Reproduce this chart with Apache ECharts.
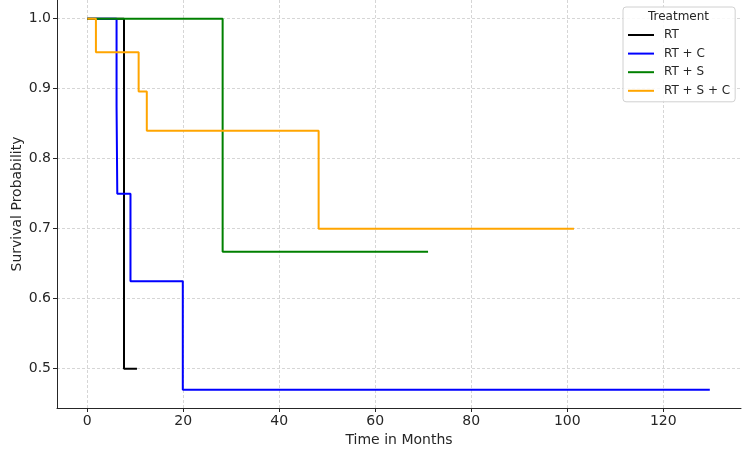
<!DOCTYPE html>
<html>
<head>
<meta charset="utf-8">
<script src="https://cdn.jsdelivr.net/npm/echarts@6/dist/echarts.min.js"></script>
<style>
  html, body { margin: 0; padding: 0; background: #fff; }
  #main { width: 750px; height: 456px; }
</style>
</head>
<body>
<div id="main"></div>
<script>
    // Kaplan-Meier steps
    var rtTime = [0, 7.65, 10.35];
    var rtSurv = [1.0, 0.5, 0.5];

    var rtcTime = [0, 6.1, 6.25, 9.0, 19.9, 129.7];
    var rtcSurv = [1.0, 0.875, 0.75, 0.625, 0.47, 0.47];

    var rtsTime = [0, 28.2, 71.0];
    var rtsSurv = [1.0, 0.667, 0.667];

    var rtscTime = [0, 1.8, 10.7, 12.4, 48.2, 101.4];
    var rtscSurv = [1.0, 0.952, 0.896, 0.84, 0.70, 0.70];

    var xTicks = [0, 20, 40, 60, 80, 100, 120];
    var yTicks = [0.5, 0.6, 0.7, 0.8, 0.9, 1.0];

    var seriesNames = ['RT', 'RT + C', 'RT + S', 'RT + S + C'];
    var seriesColors = ['#000000', '#0000ff', '#008000', '#ffa500'];

    function pairs(t, s) {
        var out = [];
        for (var i = 0; i < t.length; i++) out.push([t[i], s[i]]);
        return out;
    }

    var allData = [pairs(rtTime, rtSurv), pairs(rtcTime, rtcSurv), pairs(rtsTime, rtsSurv), pairs(rtscTime, rtscSurv)];

    var font = 'DejaVu Sans';
    var gridLine = { show: true, lineStyle: { color: '#cccccc', width: 0.8, type: [3, 2] } };

    var chart = echarts.init(document.getElementById('main'));
    chart.setOption({
        animation: false,
        textStyle: { fontFamily: font },
        grid: { left: 57, right: 9, top: 0, bottom: 48, containLabel: false, outerBoundsMode: 'none' },
        xAxis: {
            type: 'value',
            min: -6.31,
            max: 136.2,
            name: 'Time in Months',
            nameLocation: 'middle',
            nameGap: 23,
            nameTextStyle: { fontSize: 14, color: '#262626', fontFamily: font },
            axisLine: { show: true, onZero: false, lineStyle: { color: '#262626', width: 1 } },
            axisTick: { show: true, length: 4, customValues: xTicks, lineStyle: { color: '#262626' } },
            axisLabel: { customValues: xTicks, fontSize: 14, color: '#262626', margin: 6, fontFamily: font },
            splitLine: gridLine
        },
        yAxis: {
            type: 'value',
            min: 0.4439,
            max: 1.0267,
            name: 'Survival Probability',
            nameLocation: 'middle',
            nameGap: 33,
            nameMoveOverlap: false,
            nameTextStyle: { fontSize: 14, color: '#262626', fontFamily: font },
            axisLine: { show: true, onZero: false, lineStyle: { color: '#262626', width: 1 } },
            axisTick: { show: true, length: 4, customValues: yTicks, lineStyle: { color: '#262626' } },
            axisLabel: {
                customValues: yTicks, fontSize: 14, color: '#262626', margin: 6, fontFamily: font,
                formatter: function (v) { return v.toFixed(1); }
            },
            splitLine: gridLine
        },
        legend: {
            orient: 'vertical',
            left: 623,
            top: 7,
            padding: [22, 5, 5, 4],
            itemWidth: 26,
            itemHeight: 12,
            itemGap: 6.6,
            borderColor: '#d0d0d0',
            borderWidth: 1,
            borderRadius: 3,
            backgroundColor: 'rgba(255,255,255,0.85)',
            itemStyle: { opacity: 0 },
            lineStyle: { width: 2 },
            textStyle: { fontSize: 12, color: '#262626', fontFamily: font, padding: [0, 0, 0, 5] },
            data: seriesNames
        },
        graphic: [{
            type: 'text',
            z: 100,
            left: 648,
            top: 11,
            style: { text: 'Treatment', fontSize: 12, fill: '#262626', fontFamily: font }
        }],
        series: seriesNames.map(function (name, i) {
            return {
                name: name,
                type: 'line',
                step: 'end',
                symbol: 'none',
                data: allData[i],
                lineStyle: { color: seriesColors[i], width: 2 },
                itemStyle: { color: seriesColors[i] }
            };
        })
    });
</script>
</body>
</html>
